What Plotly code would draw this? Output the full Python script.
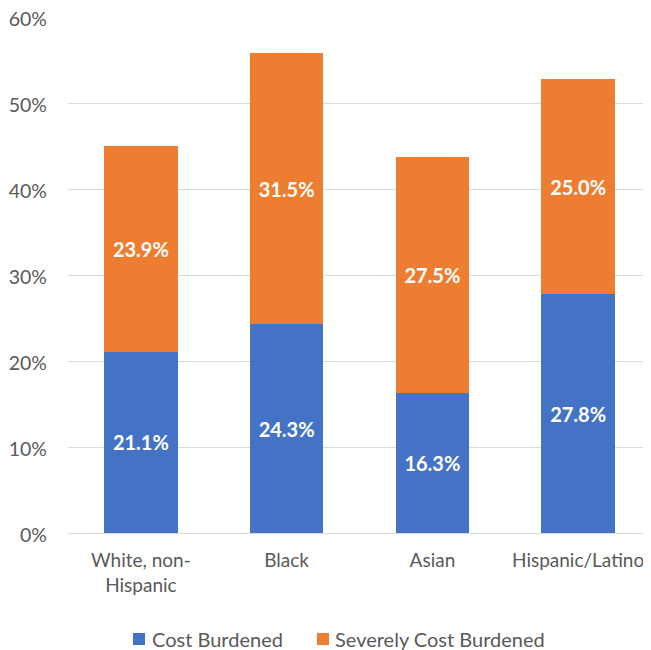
import plotly.graph_objects as go

categories = ["White, non-<br>Hispanic", "Black", "Asian", "Hispanic/Latino"]
cost_burdened = [21.1, 24.3, 16.3, 27.8]
severely_burdened = [23.9, 31.5, 27.5, 25.0]
tick_vals = [0, 10, 20, 30, 40, 50, 60]
tick_text = ["0%", "10%", "20%", "30%", "40%", "50%", "60%"]
series_names = ["Cost Burdened", "Severely Cost Burdened"]
series_colors = ["#4472C4", "#ED7D31"]

FONT = "Lato, 'Open Sans', sans-serif"
OFF = 8  # page body margin in the browser
W, H = 651 - OFF, 650 - OFF
L, R, T, B = 68 - OFF, 0, 17 - OFF, 650 - 533
PLOT_W = W - L - R
PLOT_H = H - T - B


def px_x(p):
    return (p - OFF - L) / PLOT_W


def px_y(p):
    return (H - B - (p - OFF)) / PLOT_H


fig = go.Figure()
for name, vals, col in zip(series_names, [cost_burdened, severely_burdened], series_colors):
    fig.add_trace(go.Bar(
        x=categories, y=vals, name=name,
        marker=dict(color=col, line=dict(width=0)),
        text=[f"{v:.1f}%" for v in vals],
        textposition="inside", insidetextanchor="middle",
        textfont=dict(color="white", size=20, family=FONT, weight="bold"),
        textangle=0,
        showlegend=False,
    ))

# legend drawn as squares + labels
legend_sq_left = [133, 317]
legend_txt_left = [150, 333]
legend_y = 639
for name, col, sx, tx in zip(series_names, series_colors, legend_sq_left, legend_txt_left):
    fig.add_shape(type="rect", xref="paper", yref="paper",
                  x0=px_x(sx), x1=px_x(sx + 12),
                  y0=px_y(legend_y + 6), y1=px_y(legend_y - 6),
                  fillcolor=col, line=dict(width=0))
    fig.add_annotation(xref="paper", yref="paper", x=px_x(tx), y=px_y(legend_y),
                       xanchor="left", yanchor="middle", showarrow=False,
                       text=name, font=dict(size=20, color="#595959", family=FONT))

fig.update_layout(
    barmode="stack",
    bargap=0.495,
    width=W, height=H,
    margin=dict(l=L, r=R, t=T, b=B),
    paper_bgcolor="white", plot_bgcolor="white",
    font=dict(family=FONT, color="#595959", size=20),
    showlegend=False,
    hovermode=False,
)
fig.update_xaxes(
    type="category", range=[-0.5, 3.5], automargin=False,
    showgrid=False, showline=False, zeroline=False,
    ticks="", ticklabelstandoff=14, ticklabeloverflow="allow",
    tickfont=dict(size=19, color="#595959"),
)
fig.update_yaxes(
    range=[0, 60.03], tickvals=tick_vals, ticktext=tick_text, automargin=False,
    showgrid=True, gridcolor="#D9D9D9", gridwidth=1,
    zeroline=True, zerolinecolor="#D9D9D9", zerolinewidth=1,
    showline=False, ticks="", ticklabelstandoff=20, ticklabeloverflow="allow",
    ticklabelshift=2,
    tickfont=dict(size=19.5, color="#595959"),
)

fig.write_html("out.html")
